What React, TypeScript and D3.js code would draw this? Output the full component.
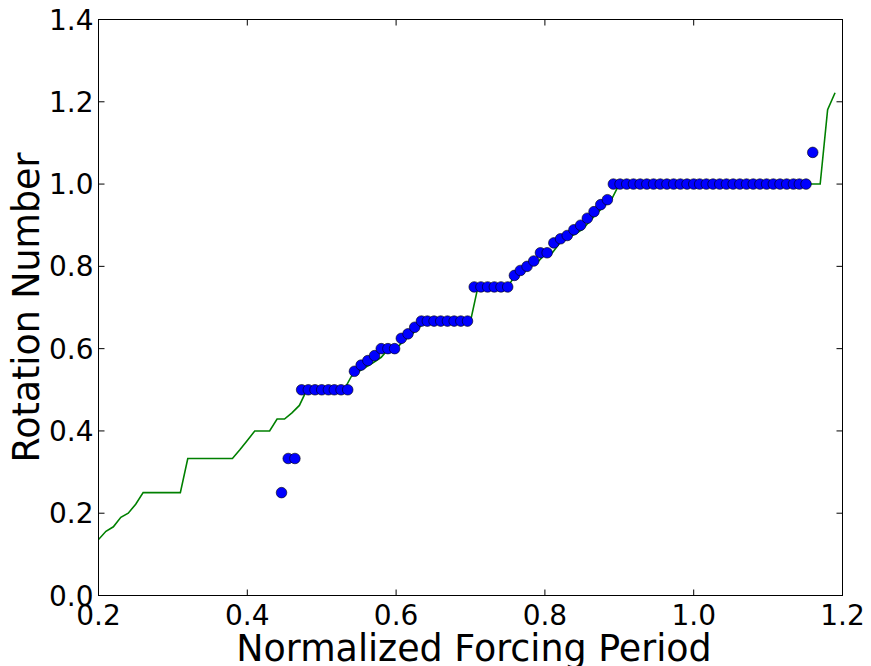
import * as d3 from "d3";

// rotation number samples (scatter)
const periodSamples = [
  0.446, 0.455, 0.464, 0.473, 0.482, 0.491, 0.5, 0.509, 0.517, 0.526,
  0.535, 0.544, 0.553, 0.562, 0.571, 0.58, 0.589, 0.598, 0.607, 0.616,
  0.625, 0.634, 0.642, 0.651, 0.66, 0.669, 0.678, 0.687, 0.696, 0.705,
  0.714, 0.723, 0.732, 0.741, 0.75, 0.759, 0.767, 0.776, 0.785, 0.794,
  0.803, 0.812, 0.821, 0.83, 0.839, 0.848, 0.857, 0.866, 0.875, 0.884,
  0.892, 0.901, 0.91, 0.919, 0.928, 0.937, 0.946, 0.955, 0.964, 0.973,
  0.982, 0.991, 1.0, 1.008, 1.017, 1.026, 1.035, 1.044, 1.053, 1.062,
  1.071, 1.08, 1.089, 1.098, 1.107, 1.116, 1.125, 1.134, 1.142, 1.151,
  1.16,
];
const rotationSamples = [
  0.25, 0.333, 0.333, 0.5, 0.5, 0.5, 0.5, 0.5, 0.5, 0.5,
  0.5, 0.545, 0.56, 0.571, 0.583, 0.6, 0.6, 0.6, 0.625, 0.636,
  0.652, 0.667, 0.667, 0.667, 0.667, 0.667, 0.667, 0.667, 0.667, 0.75,
  0.75, 0.75, 0.75, 0.75, 0.75, 0.778, 0.79, 0.8, 0.813, 0.833,
  0.833, 0.857, 0.867, 0.875, 0.889, 0.9, 0.917, 0.933, 0.95, 0.962,
  1.0, 1.0, 1.0, 1.0, 1.0, 1.0, 1.0, 1.0, 1.0, 1.0,
  1.0, 1.0, 1.0, 1.0, 1.0, 1.0, 1.0, 1.0, 1.0, 1.0,
  1.0, 1.0, 1.0, 1.0, 1.0, 1.0, 1.0, 1.0, 1.0, 1.0,
  1.077,
];

// model curve (green line)
const modelPeriod = [
  0.2, 0.21, 0.22, 0.23, 0.24, 0.25, 0.26, 0.31, 0.32, 0.38,
  0.39, 0.4, 0.41, 0.43, 0.44, 0.45, 0.46, 0.47, 0.48, 0.53,
  0.54, 0.55, 0.56, 0.57, 0.58, 0.59, 0.6, 0.61, 0.62, 0.63,
  0.64, 0.7, 0.71, 0.75, 0.76, 0.77, 0.78, 0.79, 0.8, 0.81,
  0.82, 0.83, 0.84, 0.85, 0.86, 0.87, 0.88, 0.89, 0.9, 1.17,
  1.18, 1.19,
];
const modelRotation = [
  0.136, 0.156, 0.167, 0.19, 0.2, 0.222, 0.25, 0.25, 0.333, 0.333,
  0.354, 0.377, 0.4, 0.4, 0.429, 0.429, 0.444, 0.462, 0.5, 0.5,
  0.533, 0.545, 0.556, 0.567, 0.579, 0.6, 0.6, 0.619, 0.633, 0.65,
  0.667, 0.667, 0.75, 0.75, 0.778, 0.8, 0.806, 0.81, 0.829, 0.833,
  0.857, 0.868, 0.878, 0.889, 0.909, 0.929, 0.947, 0.964, 1.0, 1.0,
  1.181, 1.222,
];

const xTicks = [0.2, 0.4, 0.6, 0.8, 1.0, 1.2];
const yTicks = [0.0, 0.2, 0.4, 0.6, 0.8, 1.0, 1.2, 1.4];

export default function App() {
  const width = 871;
  const height = 666;
  const left = 98.5;
  const right = 842.5;
  const top = 19.5;
  const bottom = 595.5;

  const x = d3.scaleLinear([0.2, 1.2], [left, right]);
  const y = d3.scaleLinear([0, 1.4], [bottom, top]);

  const line = d3
    .line<number>()
    .x((d) => x(d))
    .y((_, i) => y(modelRotation[i]));

  const font = "DejaVu Sans, sans-serif";
  const tickLen = 6;

  return (
    <svg
      width={width}
      height={height}
      style={{ position: "absolute", left: 0, top: 0, background: "white" }}
      fontFamily={font}
    >
      <defs>
        <clipPath id="plot">
          <rect x={left} y={top} width={right - left} height={bottom - top} />
        </clipPath>
      </defs>
      <path
        d={line(modelPeriod) ?? ""}
        fill="none"
        stroke="#008000"
        strokeWidth={1.6}
        clipPath="url(#plot)"
      />
      <g fill="#0000ff" stroke="#000" strokeWidth={0.6}>
        {periodSamples.map((p, i) => (
          <circle key={i} cx={x(p)} cy={y(rotationSamples[i])} r={5.3} />
        ))}
      </g>
      <rect
        x={left}
        y={top}
        width={right - left}
        height={bottom - top}
        fill="none"
        stroke="#000"
        strokeWidth={1}
      />
      <g stroke="#000" strokeWidth={1}>
        {xTicks.map((t) => (
          <g key={"x" + t}>
            <line x1={x(t)} x2={x(t)} y1={bottom} y2={bottom - tickLen} />
            <line x1={x(t)} x2={x(t)} y1={top} y2={top + tickLen} />
          </g>
        ))}
        {yTicks.map((t) => (
          <g key={"y" + t}>
            <line x1={left} x2={left + tickLen} y1={y(t)} y2={y(t)} />
            <line x1={right} x2={right - tickLen} y1={y(t)} y2={y(t)} />
          </g>
        ))}
      </g>
      <g fontSize={28} fill="#000">
        {xTicks.map((t) => (
          <text key={"xl" + t} x={x(t)} y={625} textAnchor="middle">
            {t.toFixed(1)}
          </text>
        ))}
        {yTicks.map((t) => (
          <text
            key={"yl" + t}
            x={left - 5}
            y={y(t)}
            dy="0.36em"
            textAnchor="end"
          >
            {t.toFixed(1)}
          </text>
        ))}
      </g>
      <text x={474} y={661} fontSize={36.4} textAnchor="middle">
        Normalized Forcing Period
      </text>
      <text
        transform={`translate(39,${(top + bottom) / 2}) rotate(-90)`}
        fontSize={36.4}
        textAnchor="middle"
      >
        Rotation Number
      </text>
    </svg>
  );
}
